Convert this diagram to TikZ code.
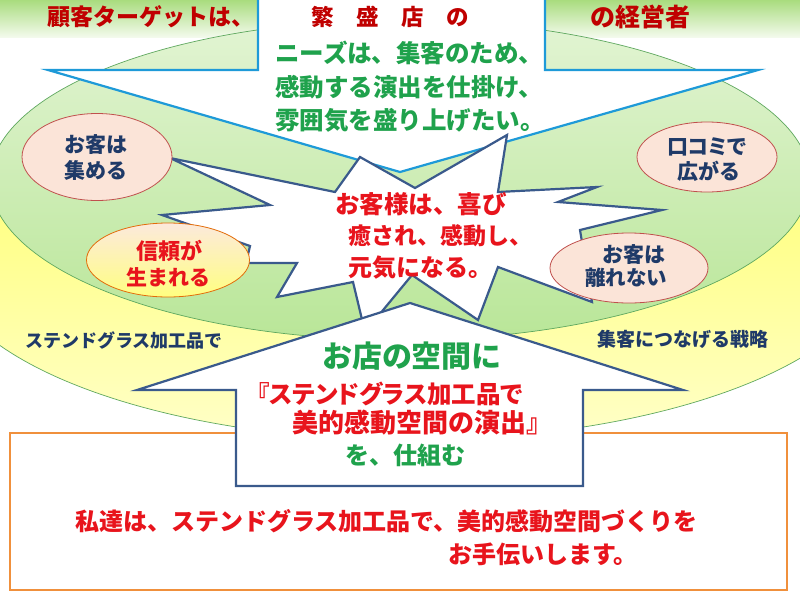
\documentclass[tikz,border=0pt]{standalone}
\usepackage{fontspec}
\newfontfamily\jp{Noto Sans CJK JP}
\newfontfamily\jpp{Noto Sans CJK JP}[RawFeature=+palt]
\usetikzlibrary{shapes.geometric}
\definecolor{bannerTop}{HTML}{A9DC7E}
\definecolor{bannerBot}{HTML}{F3FAEC}
\definecolor{yelTop}{HTML}{FFFF5C}
\definecolor{yelBot}{HTML}{FFFFC8}
\definecolor{grnTop}{HTML}{E2F4D3}
\definecolor{grnBot}{HTML}{B9E698}
\definecolor{ellEdge}{HTML}{5FA85F}
\definecolor{callBlue}{HTML}{1E9AD8}
\definecolor{burstBlue}{HTML}{3A5A8C}
\definecolor{pinkFill}{HTML}{FBE4D8}
\definecolor{pinkEdge}{HTML}{C0504D}
\definecolor{peachTop}{HTML}{FCE9DC}
\definecolor{peachBot}{HTML}{FFFF80}
\definecolor{orangeEdge}{HTML}{E36C0A}
\definecolor{boxOrange}{HTML}{F0903C}
\definecolor{darkRed}{HTML}{C00000}
\definecolor{brightRed}{HTML}{E8141C}
\definecolor{txtGreen}{HTML}{1FA24C}
\definecolor{navy}{HTML}{1F3A68}
\tikzset{
  tx/.style={inner sep=0pt, font=\jp\bfseries\fontsize{#1}{#1}\selectfont},
  txp/.style={inner sep=0pt, font=\jpp\bfseries\fontsize{#1}{#1}\selectfont},
  smallell/.style={ellipse, draw=pinkEdge, line width=0.8pt, fill=pinkFill, inner sep=0pt},
  bigell/.style={draw=ellEdge, line width=0.7pt},
  calltop/.style={draw=callBlue, line width=2.2pt, fill=white, line join=miter},
  callbot/.style={draw=burstBlue, line width=2.2pt, fill=white, line join=miter},
  burst/.style={draw=burstBlue, line width=2.2pt, fill=white, line join=miter, miter limit=20},
}
\begin{document}
\begin{tikzpicture}[x=1pt,y=-1pt]
\useasboundingbox (0,0) rectangle (800,600);
\fill[white] (0,0) rectangle (800,600);
% banner
\shade[top color=bannerTop,bottom color=bannerBot] (0,0) rectangle (800,37);
% big ellipses
\shade[bigell, top color=yelTop, bottom color=yelBot] (410,255) ellipse [x radius=470, y radius=185];
\shade[bigell, top color=grnTop, bottom color=grnBot] (400,180) ellipse [x radius=410, y radius=160];
% top callout
\draw[calltop] (258,-4) -- (545,-4) -- (545,70) -- (758,70) -- (400,172) -- (48,70) -- (258,70) -- cycle;
% starburst
\draw[burst] (170,158) -- (335,192) -- (360,157) -- (415,188) -- (507,135) -- (498,192)
  -- (597,187) -- (558,202) -- (662,210) -- (580,230) -- (592,302) -- (498,267)
  -- (478,320) -- (412,275) -- (365,332) -- (353,282) -- (277,297) -- (297,263)
  -- (246,263) -- (250,246) -- (162,215) -- (270,205) -- cycle;
% small ellipses
\node[smallell, minimum width=150pt, minimum height=87pt] (e1) at (97,157) {};
\node[ellipse, draw=orangeEdge, line width=0.8pt, top color=peachTop, bottom color=peachBot,
      inner sep=0pt, minimum width=163pt, minimum height=74pt] (e2) at (168,260) {};
\node[smallell, minimum width=140pt, minimum height=70pt] (e3) at (707,157) {};
\node[smallell, minimum width=158pt, minimum height=70pt] (e4) at (629,268) {};
\node[tx=21, text=navy] (e1a) at (96,145) {お客は};
\node[tx=21, text=navy] (e1b) at (96,170) {集める};
\node[tx=22, text=brightRed] (e2a) at (169,251) {信頼が};
\node[tx=21, text=brightRed] (e2b) at (168,277) {生まれる};
\node[txp=21, text=navy] (e3a) at (707,147) {口コミで};
\node[tx=21, text=navy] (e3b) at (709,171) {広がる};
\node[tx=21, text=navy] (e4a) at (634,255) {お客は};
\node[tx=20.5, text=navy] (e4b) at (626,278) {離れない};
% side labels
\node[tx=18, text=navy, anchor=west] (l1) at (25,340) {ステンドグラス加工品で};
\node[tx=19, text=navy, anchor=west] (l2) at (597,339) {集客につなげる戦略};
% banner texts
\node[tx=23, text=darkRed] (b1) at (151,17) {顧客ターゲットは、};
\node[tx=25, text=darkRed] (b2) at (640,17) {の経営者};
\node[tx=22.5, text=darkRed] (b3) at (390,17) {繁　盛　店　の};
% top callout text
\node[tx=24.5, text=txtGreen, anchor=west] (g1) at (275,53) {ニーズは、集客のため、};
\node[tx=24.5, text=txtGreen, anchor=west] (g2) at (275,87) {感動する演出を仕掛け、};
\node[tx=24.5, text=txtGreen, anchor=west] (g3) at (275,120) {雰囲気を盛り上げたい。};
% starburst text
\node[tx=24.5, text=brightRed, anchor=west] (s1) at (335,204) {お客様は、喜び};
\node[tx=23, text=brightRed, anchor=west] (s2) at (348,236) {癒され、感動し、};
\node[tx=24, text=brightRed, anchor=west] (s3) at (348,268) {元気になる。};
% orange box
\draw[boxOrange, line width=2.6pt, fill=white] (10,433) rectangle (787,590);
% bottom callout
\draw[callbot] (236,486) -- (236,390) -- (137,390) -- (410,303) -- (683,390) -- (583,390) -- (583,486) -- cycle;
\node[txp=30, text=txtGreen] (c1) at (412,356) {お店の空間に};
\node[txp=24.5, text=brightRed, anchor=west] (c2) at (257,394) {『ステンドグラス加工品で};
\node[tx=26, text=brightRed, anchor=west] (c3) at (292,423) {美的感動空間の演出』};
\node[tx=24, text=txtGreen, anchor=west] (c4) at (345,455) {を、仕組む};
% bottom message
\node[tx=24, text=brightRed, anchor=west] (m1) at (75,521) {私達は、ステンドグラス加工品で、美的感動空間づくりを};
\node[tx=24, text=brightRed, anchor=west] (m2) at (448,554) {お手伝いします。};
\end{tikzpicture}
\end{document}
